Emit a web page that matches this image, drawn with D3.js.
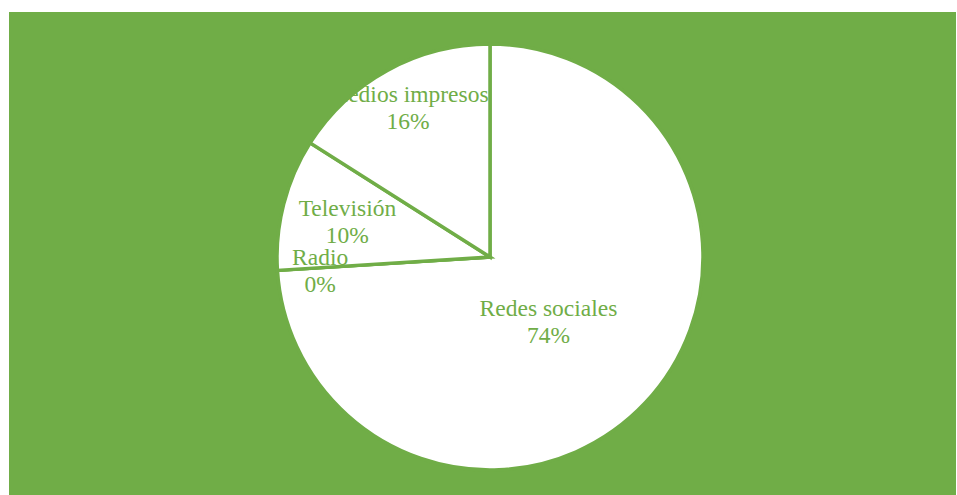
<!DOCTYPE html>
<html>
<head>
<meta charset="utf-8">
<script src="https://cdn.jsdelivr.net/npm/d3@7/dist/d3.min.js"></script>
<style>
  html, body { margin: 0; padding: 0; background: #ffffff; }
  svg { display: block; }
</style>
</head>
<body>
<div id="chart"></div>
<script>
// Media channels, in clockwise order starting at 12 o'clock
const categories = ["Redes sociales", "Radio", "Televisión", "Medios impresos"];
const shares = [74, 0, 10, 16];
const shareLabels = ["74%", "0%", "10%", "16%"];

const W = 957, H = 495;
const green = "#70AD47";
const cx = 490, cy = 257, radius = 213;

// Label placement: fraction of radius and angular nudge (degrees) per slice
const labelRadiusFrac = [0.41, 0.80, 0.69, 0.80];
const labelAngleNudge = [4.8, -0.9, -0.4, 0];

const svg = d3.select("#chart").append("svg")
  .attr("width", W).attr("height", H);

svg.append("rect")
  .attr("x", 9).attr("y", 12)
  .attr("width", 947).attr("height", H - 12)
  .attr("fill", green);

const data = categories.map((c, i) => ({ name: c, value: shares[i], label: shareLabels[i] }));

const pie = d3.pie().value(d => d.value).sort(null);
const arcs = pie(data);
const arc = d3.arc().innerRadius(0).outerRadius(radius);

const g = svg.append("g").attr("transform", `translate(${cx},${cy})`);

g.selectAll("path.slice")
  .data(arcs)
  .join("path")
  .attr("class", "slice")
  .attr("d", arc)
  .attr("fill", "#ffffff")
  .attr("stroke", green)
  .attr("stroke-width", 3.5)
  .attr("stroke-linejoin", "miter");

g.selectAll("text.lbl")
  .data(arcs)
  .join("text")
  .attr("class", "lbl")
  .attr("text-anchor", "middle")
  .attr("font-family", "serif")
  .attr("font-size", 23.5)
  .attr("fill", green)
  .each(function (d, i) {
    const a = (d.startAngle + d.endAngle) / 2 + labelAngleNudge[i] * Math.PI / 180;
    const r = radius * labelRadiusFrac[i];
    const x = r * Math.sin(a);
    const y = -r * Math.cos(a);
    const t = d3.select(this);
    t.append("tspan").attr("x", x).attr("y", y - 5.5).text(d.data.name);
    t.append("tspan").attr("x", x).attr("y", y + 21.5).text(d.data.label);
  });
</script>
</body>
</html>
